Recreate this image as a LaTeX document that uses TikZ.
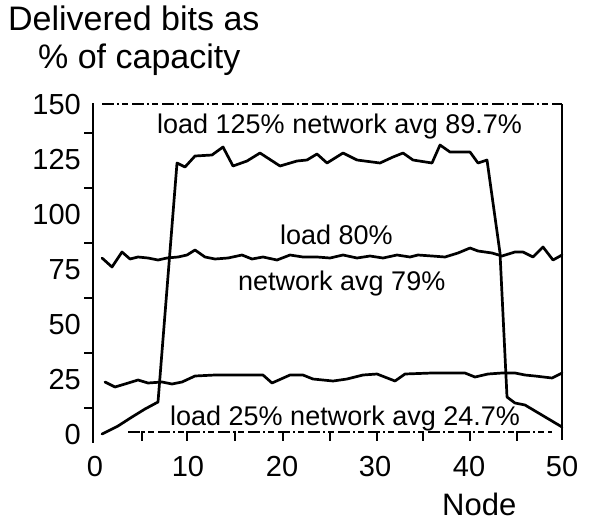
\documentclass[tikz,border=0pt]{standalone}
\usepackage{fontspec}
\setmainfont{Liberation Sans}
\begin{document}
\begin{tikzpicture}[x=1pt,y=-1pt,
  curve/.style={line width=2.7pt, line join=round, line cap=round},
  frame/.style={line width=2.3pt},
  loose/.style={line width=1.8pt, dash pattern=on 12pt off 3pt on 2pt off 3pt on 6pt off 4pt},
  tickmark/.style={line width=2.2pt},
  ylab/.style={anchor=east, inner sep=0pt, font=\fontsize{29}{32}\selectfont},
  xlab/.style={anchor=center, inner sep=0pt, font=\fontsize{29}{32}\selectfont},
  curvelab/.style={anchor=base west, inner sep=0pt, font=\fontsize{27}{30}\selectfont},
  title/.style={anchor=base west, inner sep=0pt, font=\fontsize{34}{37}\selectfont}]
\useasboundingbox (0,0) rectangle (596,525);

% frame corners
\coordinate (lt) at (93,103);
\coordinate (lb) at (93,443);
\coordinate (tl) at (102,104);
\coordinate (tr) at (562,104);
\coordinate (rb) at (562,440);
\coordinate (bl) at (128,432);
\coordinate (br) at (552,432);

\draw[frame] (lt) -- (lb);
\draw[frame] (tr) -- (rb);
\draw[loose] (tl) -- (tr);
\draw[loose] (bl) -- (br);

% ticks on the vertical axis (between labels)
\foreach \yy in {133,188,243,298,353,408}
  \draw[tickmark] (84,\yy) -- (93,\yy);
% ticks on the horizontal axis, every 5 nodes
\foreach \xx in {142,187,235,283,330,377,423,470,517}
  \draw[tickmark] (\xx,431) -- (\xx,441);

% axis labels
\foreach \v/\yy in {150/105,125/160,100/215,75/270,50/325,25/380,0/435}
  \node[ylab] (y\v) at (81,\yy) {\v};
\foreach \v/\xx in {0/95,10/188,20/282,30/375,40/469,50/562}
  \node[xlab] (x\v) at (\xx,467) {\v};

\node[title] (ttl1) at (8,30) {Delivered bits as};
\node[title] (ttl2) at (38,68) {\% of capacity};
\node[title, font=\fontsize{31}{34}\selectfont] (xt) at (442,515) {Node};

% load 125%
\draw[curve] (102,434) -- (118,426) -- (132,417) -- (145,409) -- (158,402)
  -- (177,163) -- (185,167) -- (195,156) -- (212,155) -- (223,147)
  -- (233,166) -- (247,161) -- (260,153) -- (280,166) -- (297,161)
  -- (307,160) -- (317,154) -- (327,163) -- (343,153) -- (357,160)
  -- (380,163) -- (393,157) -- (403,153) -- (413,160) -- (432,163)
  -- (440,145) -- (450,152) -- (470,152) -- (478,163) -- (487,160)
  -- (500,253) -- (507,397) -- (515,403) -- (525,405) -- (562,427);

% load 80%
\draw[curve] (102,258) -- (112,267) -- (122,252) -- (130,259) -- (138,257)
  -- (148,258) -- (158,260) -- (167,258) -- (178,257) -- (187,255)
  -- (195,250) -- (205,257) -- (215,259) -- (228,258) -- (242,255)
  -- (252,259) -- (263,257) -- (277,260) -- (290,255) -- (303,257)
  -- (317,257) -- (330,258) -- (343,255) -- (357,258) -- (370,256)
  -- (383,258) -- (397,255) -- (410,257) -- (418,255) -- (432,256)
  -- (445,257) -- (458,253) -- (470,248) -- (478,251) -- (492,253)
  -- (502,256) -- (515,252) -- (523,252) -- (533,257) -- (543,247)
  -- (553,260) -- (562,255);

% load 25%
\draw[curve] (105,382) -- (115,387) -- (125,384) -- (138,380) -- (148,383)
  -- (162,382) -- (172,384) -- (182,382) -- (195,376) -- (215,375)
  -- (263,375) -- (272,383) -- (290,375) -- (303,375) -- (313,379)
  -- (333,381) -- (347,379) -- (363,375) -- (377,374) -- (395,381)
  -- (405,374) -- (432,373) -- (465,373) -- (475,377) -- (488,374)
  -- (502,373) -- (515,373) -- (525,375) -- (535,376) -- (552,378)
  -- (562,373);

% curve labels
\node[curvelab] (l125) at (157,133) {load 125\% network avg 89.7\%};
\node[curvelab] (l80) at (280,244) {load 80\%};
\node[curvelab] (a80) at (238,290) {network avg 79\%};
\node[curvelab] (l25) at (170,425) {load 25\% network avg 24.7\%};
\end{tikzpicture}
\end{document}
